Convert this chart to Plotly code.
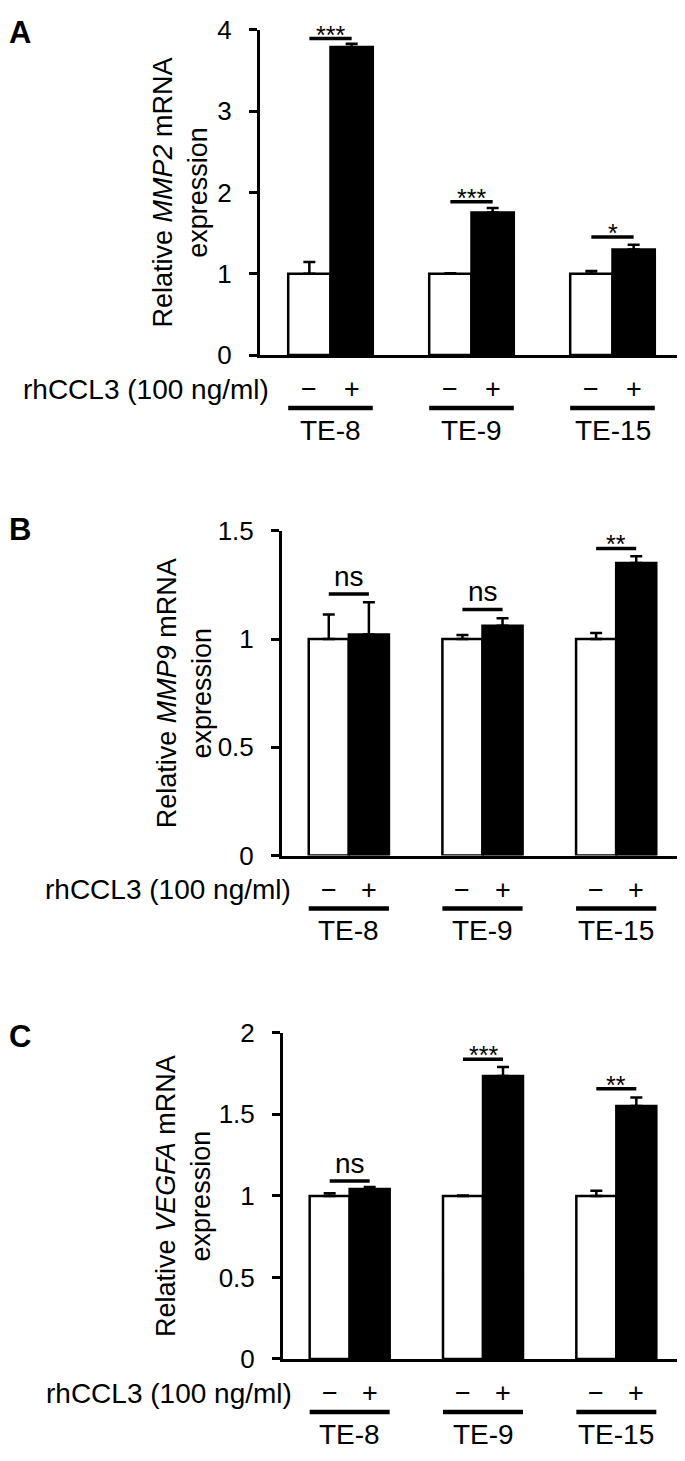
import plotly.graph_objects as go

W, H = 685, 1461
OFF = 8  # page body margin offset in the rendered page
FONT = "Liberation Sans, Arial, sans-serif"

groups = ["TE-8", "TE-9", "TE-15"]
treat_marks = ["\u2212", "+"]
treat_title = "rhCCL3 (100 ng/ml)"

# ---- Panel A: MMP2 ----
a_ctrl = [1.0, 1.0, 1.0]
a_ctrl_err = [0.146, 0.006, 0.034]
a_trt = [3.79, 1.754, 1.299]
a_trt_err = [0.038, 0.056, 0.057]
a_sig_y = [3.893, 1.887, 1.452]
a_sig = ["***", "***", "*"]
a_ticks = [0, 1, 2, 3, 4]
a_ticktext = ["0", "1", "2", "3", "4"]
a_title = "Relative <i>MMP2</i> mRNA<br>expression"

# ---- Panel B: MMP9 ----
b_ctrl = [1.0, 1.0, 1.0]
b_ctrl_err = [0.114, 0.019, 0.028]
b_trt = [1.021, 1.062, 1.352]
b_trt_err = [0.149, 0.034, 0.031]
b_sig_y = [1.208, 1.137, 1.419]
b_sig = ["ns", "ns", "**"]
b_ticks = [0, 0.5, 1, 1.5]
b_ticktext = ["0", "0.5", "1", "1.5"]
b_title = "Relative <i>MMP9</i> mRNA<br>expression"

# ---- Panel C: VEGFA ----
c_ctrl = [1.0, 1.0, 1.0]
c_ctrl_err = [0.016, 0.002, 0.032]
c_trt = [1.042, 1.735, 1.551]
c_trt_err = [0.012, 0.055, 0.052]
c_sig_y = [1.092, 1.838, 1.657]
c_sig = ["ns", "***", "**"]
c_ticks = [0, 0.5, 1, 1.5, 2]
c_ticktext = ["0", "0.5", "1", "1.5", "2"]
c_title = "Relative <i>VEGFA</i> mRNA<br>expression"

panels = [
    dict(letter="A", ctrl=a_ctrl, ctrl_err=a_ctrl_err, trt=a_trt, trt_err=a_trt_err,
         sig_y=a_sig_y, sig=a_sig, ticks=a_ticks, ticktext=a_ticktext, title=a_title,
         yr=[0, 4], left=260, right=683, top=15, bottom=347, title_x=180, letter_y=18),
    dict(letter="B", ctrl=b_ctrl, ctrl_err=b_ctrl_err, trt=b_trt, trt_err=b_trt_err,
         sig_y=b_sig_y, sig=b_sig, ticks=b_ticks, ticktext=b_ticktext, title=b_title,
         yr=[0, 1.5], left=282, right=683, top=526.5, bottom=858, title_x=184, letter_y=525),
    dict(letter="C", ctrl=c_ctrl, ctrl_err=c_ctrl_err, trt=c_trt, trt_err=c_trt_err,
         sig_y=c_sig_y, sig=c_sig, ticks=c_ticks, ticktext=c_ticktext, title=c_title,
         yr=[0, 2], left=283, right=683, top=1039, bottom=1372, title_x=184, letter_y=1043),
]

BARW = 0.3  # each bar width in category units (bargap 0.4)


def px_x(p):
    return (p - OFF) / W


def px_y(p):
    return 1 - (p - OFF) / H


fig = go.Figure()
layout = dict(
    width=W, height=H, margin=dict(l=0, r=0, t=0, b=0),
    paper_bgcolor="white", plot_bgcolor="white", showlegend=False,
    barmode="group", bargap=0.4, bargroupgap=0,
    font=dict(family=FONT, color="black", size=26),
)
annotations = []
shapes = []

for k, p in enumerate(panels, start=1):
    xa = "x" if k == 1 else f"x{k}"
    ya = "y" if k == 1 else f"y{k}"
    err_common = dict(type="data", symmetric=False, color="black", thickness=2.5, width=6, visible=True)
    fig.add_trace(go.Bar(x=groups, y=p["ctrl"], xaxis=xa, yaxis=ya,
                         marker=dict(color="white", line=dict(color="black", width=2.5)),
                         error_y=dict(array=p["ctrl_err"], arrayminus=[0] * 3, **err_common)))
    fig.add_trace(go.Bar(x=groups, y=p["trt"], xaxis=xa, yaxis=ya,
                         marker=dict(color="black", line=dict(color="black", width=2.5)),
                         error_y=dict(array=p["trt_err"], arrayminus=[0] * 3, **err_common)))

    xkey = "xaxis" if k == 1 else f"xaxis{k}"
    ykey = "yaxis" if k == 1 else f"yaxis{k}"
    layout[xkey] = dict(domain=[px_x(p["left"]), px_x(p["right"])], anchor=ya,
                        type="category", range=[-0.5, 2.5], showline=True, linewidth=3,
                        linecolor="black", ticks="", showticklabels=False, showgrid=False,
                        zeroline=False, fixedrange=True)
    layout[ykey] = dict(domain=[px_y(p["bottom"]), px_y(p["top"])], anchor=xa,
                        range=p["yr"], tickvals=p["ticks"], ticktext=p["ticktext"],
                        showline=True, linewidth=3, linecolor="black", ticks="outside",
                        ticklen=8, tickwidth=2.5, tickcolor="black", showgrid=False,
                        zeroline=False, ticklabelstandoff=12,
                        tickfont=dict(family=FONT, size=26, color="black"))

    for i, g in enumerate(groups):
        # significance bracket
        shapes.append(dict(type="line", xref=xa, yref=ya, x0=i - BARW / 2, x1=i + BARW / 2,
                           y0=p["sig_y"][i], y1=p["sig_y"][i],
                           line=dict(color="black", width=3.5)))
        is_star = "*" in p["sig"][i]
        annotations.append(dict(xref=xa, yref=ya, x=i, y=p["sig_y"][i], text=p["sig"][i],
                                showarrow=False, yanchor="bottom", xanchor="center",
                                yshift=-12 if is_star else 0,
                                font=dict(family=FONT, size=25 if is_star else 28, color="black")))
        # treatment marks
        for j, m in enumerate(treat_marks):
            annotations.append(dict(xref=xa, yref="paper", x=i + (j - 0.5) * BARW,
                                    y=px_y(p["bottom"] + 35), text=m, showarrow=False,
                                    xanchor="center", yanchor="middle",
                                    font=dict(family=FONT, size=27, color="black")))
        # group underline
        shapes.append(dict(type="line", xref=xa, yref="paper", x0=i - BARW, x1=i + BARW,
                           y0=px_y(p["bottom"] + 54), y1=px_y(p["bottom"] + 54),
                           line=dict(color="black", width=4.5)))
        annotations.append(dict(xref=xa, yref="paper", x=i, y=px_y(p["bottom"] + 77),
                                text=g, showarrow=False, xanchor="center", yanchor="middle",
                                font=dict(family=FONT, size=28, color="black")))

    # treatment row title
    annotations.append(dict(xref="paper", yref="paper", x=px_x(p["left"] + 11),
                            y=px_y(p["bottom"] + 35), text=treat_title, showarrow=False,
                            xanchor="right", yanchor="middle",
                            font=dict(family=FONT, size=28, color="black")))
    # y title
    annotations.append(dict(xref="paper", yref="paper", x=px_x(p["title_x"]),
                            y=px_y((p["top"] + p["bottom"]) / 2), text=p["title"],
                            textangle=-90, showarrow=False, xanchor="center", yanchor="middle",
                            font=dict(family=FONT, size=27, color="black")))
    # panel letter
    annotations.append(dict(xref="paper", yref="paper", x=0, y=px_y(p["letter_y"]),
                            text=f"<b>{p['letter']}</b>", showarrow=False,
                            xanchor="left", yanchor="middle", borderpad=0,
                            font=dict(family=FONT, size=31, color="black")))

layout["annotations"] = annotations
layout["shapes"] = shapes
fig.update_layout(**layout)
fig.write_html("out.html")
